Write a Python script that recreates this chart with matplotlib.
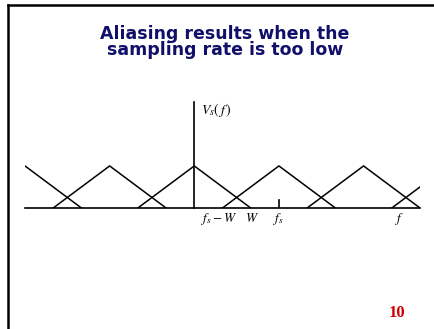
import numpy as np
import matplotlib.pyplot as plt
from matplotlib.lines import Line2D

plt.rcParams['mathtext.fontset'] = 'stix'

# spectrum copies (units of W), fs = 1.5 W -> aliasing
W = 1.0
fs = 1.5
centers = [-3.0, -1.5, 0.0, 1.5, 3.0, 4.5]
peak = 1.0
xmin, xmax = -3.0, 4.0
ytop = 2.52

labels = [r'$f_s - W$', r'$W$', r'$f_s$', r'$f$']
label_x = [0.44, 1.02, 1.5, 3.65]

fig = plt.figure(figsize=(4.34, 3.29), dpi=100)

# slide frame
fig.add_artist(Line2D([8/434, 8/434], [0, 1-5/329], color='black', lw=1.8))
fig.add_artist(Line2D([8/434, 1], [1-5/329, 1-5/329], color='black', lw=1.8))

fig.text(0.518, 0.872, 'Aliasing results when the\nsampling rate is too low',
         ha='center', va='center', fontsize=12.5, fontweight='bold',
         color='#10106a', linespacing=0.88, family='DejaVu Sans')
fig.text(0.915, 0.049, '10', ha='center', va='center', fontsize=12,
         fontweight='bold', color='#cc0000', family='Liberation Serif')

ax = fig.add_axes([25/434, (329-208)/329, 395/434, 106/329])
ax.set_xlim(xmin, xmax)
ax.set_ylim(0, ytop)
ax.axis('off')

for c in centers:
    ax.plot([c-W, c, c+W], [0, peak, 0], color='black', lw=1.1)

ax.plot([xmin, xmax], [0, 0], color='black', lw=1.2, clip_on=False)
ax.plot([0, 0], [0, ytop], color='black', lw=1.2, clip_on=False)
ax.plot([fs, fs], [0, 0.19], color='black', lw=1.2)

ax.text(0.12, 2.33, r'$V_s(\,f\,)$', fontsize=10, ha='left', va='center')
for lx, lb in zip(label_x, labels):
    ax.text(lx, -0.26, lb, fontsize=9.5, ha='center', va='center')

fig.savefig('out.png', dpi=100)
